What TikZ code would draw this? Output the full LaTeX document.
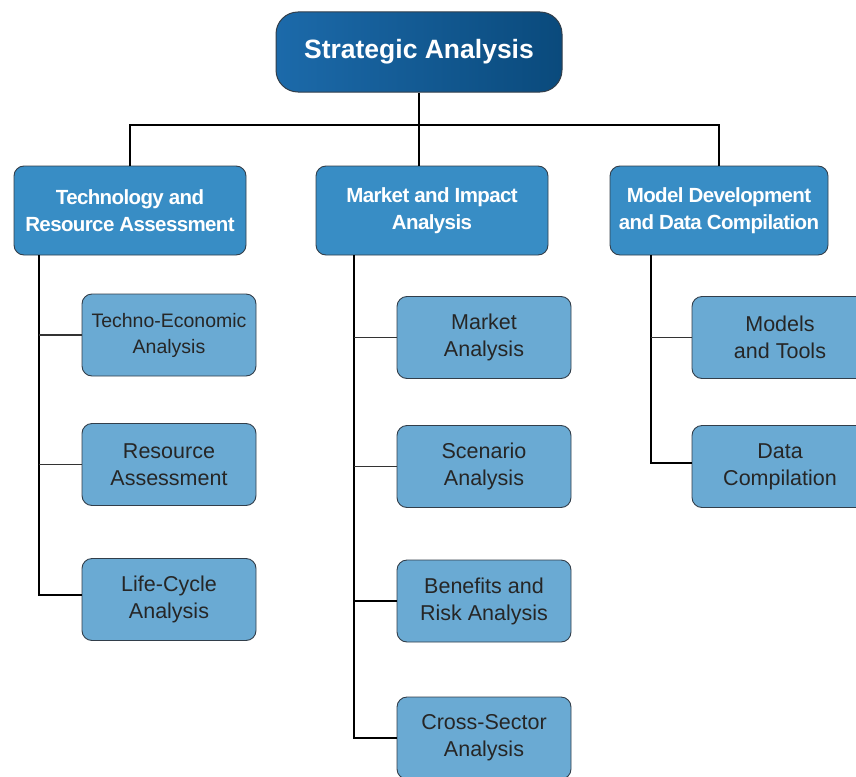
\documentclass[tikz,border=0pt]{standalone}
\usepackage{fontspec}
\setmainfont{Liberation Sans}
\usetikzlibrary{positioning}
\definecolor{headleft}{RGB}{28,106,170}
\definecolor{headright}{RGB}{10,74,124}
\definecolor{areablue}{RGB}{56,141,197}
\definecolor{leafblue}{RGB}{106,170,211}
\definecolor{edgegray}{RGB}{50,62,74}

\begin{document}
\begin{tikzpicture}[x=1pt, y=-1pt,
    headbox/.style={draw=edgegray, line width=1pt, rounded corners=22pt,
      left color=headleft, right color=headright, text=white,
      minimum width=286pt, minimum height=80pt, align=center,
      font=\fontsize{26.5}{30}\selectfont\bfseries},
    areabox/.style={draw=edgegray, line width=0.9pt, rounded corners=10pt,
      fill=areablue, text=white, minimum height=89pt, align=center,
      font=\fontsize{20.5}{27}\selectfont\bfseries\addfontfeature{LetterSpace=-3}},
    leafbox/.style={draw=edgegray, line width=0.9pt, rounded corners=10pt,
      fill=leafblue, text=black!85, minimum width=174pt, minimum height=82pt,
      align=center, font=\fontsize{21.5}{27}\selectfont},
    trunk/.style={draw=black, line width=2pt},
    branch/.style={draw=black!80, line width=1.3pt}]
  \clip (0,0) rectangle (856,776);

  % Top
  \node[headbox] (strat) at (419,52) {Strategic Analysis};

  % Second level
  \node[areabox, minimum width=232pt] (tech) at (130,210.5) {Technology and\\Resource Assessment};
  \node[areabox, minimum width=232pt] (market) at (432,210.5) {Market and Impact\\Analysis};
  \node[areabox, minimum width=218pt] (model) at (719,210.5) {Model Development\\and Data Compilation};

  % Leaves
  \node[leafbox, font=\fontsize{19.5}{26}\selectfont] (techno) at (169,335) {Techno-Economic\\Analysis};
  \node[leafbox] (resource) at (169,464.5) {Resource\\Assessment};
  \node[leafbox] (life) at (169,599.5) {Life-Cycle\\Analysis};

  \node[leafbox] (mkt) at (484,337.5) {Market\\Analysis};
  \node[leafbox] (scen) at (484,466.5) {Scenario\\Analysis};
  \node[leafbox] (risk) at (484,601) {Benefits and\\Risk Analysis};
  \node[leafbox] (cross) at (484,738) {Cross-Sector\\Analysis};

  \node[leafbox, minimum width=176pt] (tools) at (780,337.5) {Models\\and Tools};
  \node[leafbox, minimum width=176pt] (data) at (780,466.5) {Data\\Compilation};

  % Tree
  \draw[trunk] (strat.south) -- ++(0,32) coordinate (bus);
  \draw[trunk] (tech.north) |- (bus) -| (model.north);
  \draw[trunk] (bus) -- (bus |- market.north);

  % Left column
  \draw[trunk] ([xshift=25pt]tech.south west) coordinate (spineT) |- ([yshift=5pt]life.west);
  \draw[branch] (techno.west) -- (techno.west -| spineT);
  \draw[branch] (resource.west) -- (resource.west -| spineT);

  % Middle column
  \draw[trunk] ([xshift=38pt]market.south west) coordinate (spineM) |- (cross.west);
  \draw[branch] (mkt.west) -- (mkt.west -| spineM);
  \draw[branch] (scen.west) -- (scen.west -| spineM);
  \draw[trunk] (risk.west) -- (risk.west -| spineM);

  % Right column
  \draw[trunk] ([xshift=41pt]model.south west) coordinate (spineR) |- ([yshift=4pt]data.west);
  \draw[branch] (tools.west) -- (tools.west -| spineR);
\end{tikzpicture}
\end{document}
